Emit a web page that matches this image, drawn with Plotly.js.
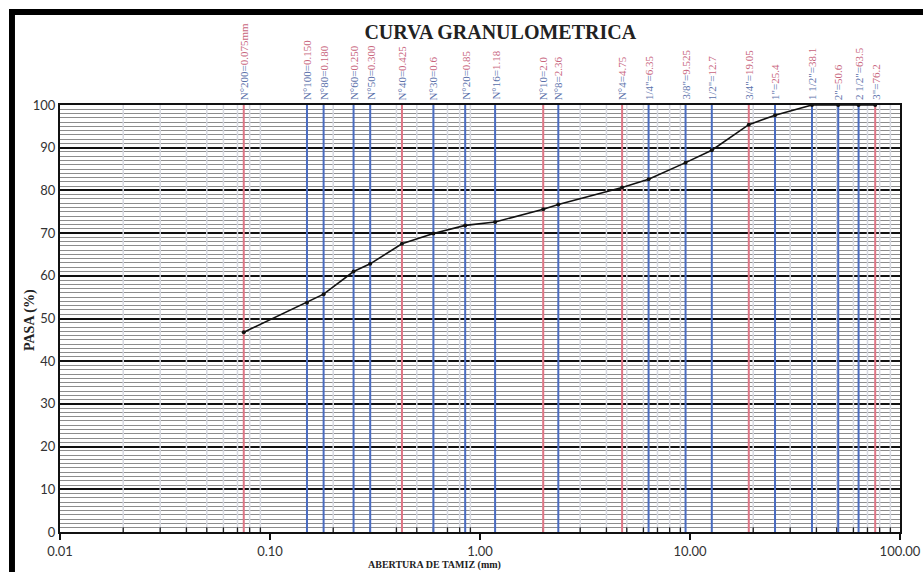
<!DOCTYPE html>
<html>
<head>
<meta charset="utf-8">
<script src="https://cdn.plot.ly/plotly-3.0.1.min.js"></script>
<style>html,body{margin:0;padding:0;background:#fff;}#chart{width:923px;height:572px;}</style>
</head>
<body>
<div id="chart"></div>
<script>
// ---- data ----
const sieveNames = ['N°200=','N°100=','N°80=','N°60=','N°50=','N°40=','N°30=','N°20=','N°16=','N°10=','N°8=','N°4=','1/4"=','3/8"=','1/2"=','3/4"=','1"=','1 1/2"=','2"=','2 1/2"=','3"='];
const sizeLabels = ['0.075mm','0.150','0.180','0.250','0.300','0.425','0.6','0.85','1.18','2.0','2.36','4.75','6.35','9.525','12.7','19.05','25.4','38.1','50.6','63.5','76.2'];
const sieveSizes = [0.075,0.150,0.180,0.250,0.300,0.425,0.6,0.85,1.18,2.0,2.36,4.75,6.35,9.525,12.7,19.05,25.4,38.1,50.8,63.5,76.2];
const passing = [46.8,53.7,55.7,61.0,62.8,67.5,69.9,71.8,72.6,75.6,76.7,80.7,82.6,86.5,89.4,95.4,97.6,100,100,100,100];
const xTickVals = [0.01,0.1,1,10,100];
const xTickText = ['0.01','0.10','1.00','10.00','100.00'];
const redSieves = ['N°200=','N°40=','N°10=','N°4=','3/4"=','3"='];

// ---- build ----
const minorX = [], minorY = [], tickX = [], tickY = [];
for (let d = -2; d < 2; d++) {
  for (let m = 2; m <= 9; m++) {
    const v = m * Math.pow(10, d);
    minorX.push(v, v, null); minorY.push(0, 100, null);
    tickX.push(v, v, null); tickY.push(0, 1.1, null);
  }
}
const redX = [], redY = [], blueX = [], blueY = [];
sieveSizes.forEach((s, i) => {
  if (redSieves.includes(sieveNames[i])) { redX.push(s, s, null); redY.push(0, 100, null); }
  else { blueX.push(s, s, null); blueY.push(0, 100, null); }
});

const traces = [
  {x: minorX, y: minorY, mode: 'lines', line: {color: '#d6d8e0', width: 1.5}, hoverinfo: 'skip', showlegend: false},
  {x: tickX, y: tickY, mode: 'lines', line: {color: '#222', width: 1.3}, hoverinfo: 'skip', showlegend: false},
  {x: redX, y: redY, mode: 'lines', line: {color: '#de7585', width: 2}, hoverinfo: 'skip', showlegend: false},
  {x: blueX, y: blueY, mode: 'lines', line: {color: '#4a6cc0', width: 2}, hoverinfo: 'skip', showlegend: false},
  {x: sieveSizes, y: passing, mode: 'lines+markers', line: {color: '#111', width: 1.6}, marker: {color: '#111', size: 4}, showlegend: false}
];

const annotations = sieveSizes.map((s, i) => ({
  x: Math.log10(s), xref: 'x', y: 1, yref: 'paper', yanchor: 'bottom', xanchor: 'center', yshift: 3,
  textangle: -90, showarrow: false,
  text: '<span style="color:#5a70aa">' + sieveNames[i] + '</span><span style="color:#c8657d">' + sizeLabels[i] + '</span>',
  font: {family: 'Liberation Serif', size: 11}
}));
annotations.push({
  x: 0.446, xref: 'paper', y: -0.077, yref: 'paper', showarrow: false, xanchor: 'center', yanchor: 'middle',
  text: '<b>ABERTURA DE TAMIZ (mm)</b>', font: {family: 'Liberation Serif', size: 10, color: '#222'}
});
annotations.push({
  x: -0.0357, xref: 'paper', y: 0.4965, yref: 'paper', showarrow: false, xanchor: 'center', yanchor: 'middle',
  textangle: -90, text: '<b>PASA (%)</b>', font: {family: 'Liberation Serif', size: 14, color: '#222'}
});

const layout = {
  width: 923, height: 572,
  margin: {l: 60, r: 23, t: 105, b: 40},
  paper_bgcolor: '#fff', plot_bgcolor: '#fff',
  title: {text: '<b>CURVA GRANULOMETRICA</b>', x: 0.542, xanchor: 'center', y: 0.944, yanchor: 'middle',
          font: {family: 'Liberation Serif', size: 20, color: '#222'}},
  xaxis: {type: 'log', range: [-2, 2], tickmode: 'array', tickvals: xTickVals, ticktext: xTickText,
          showgrid: false, zeroline: false, showline: true, linecolor: '#111', linewidth: 2, mirror: true,
          ticks: 'outside', ticklen: 6, tickcolor: '#111', tickwidth: 1.5,
          tickfont: {family: 'Lato', size: 13, color: '#333'}},
  yaxis: {range: [0, 100], dtick: 10, tick0: 0, showgrid: true, gridcolor: '#111', gridwidth: 2,
          zeroline: false, showline: true, linecolor: '#111', linewidth: 2, mirror: true, ticks: '',
          minor: {dtick: 1, tick0: 0, showgrid: true, gridcolor: '#8c8c8c', gridwidth: 1},
          tickfont: {family: 'Lato', size: 13, color: '#333'}},
  annotations: annotations,
  shapes: [
    {type: 'rect', xref: 'paper', yref: 'paper', x0: -0.0607, x1: -0.0536, y0: -0.0937, y1: 1.2248, fillcolor: '#000', line: {width: 0}},
    {type: 'rect', xref: 'paper', yref: 'paper', x0: -0.0607, x1: 1.03, y0: 1.2108, y1: 1.2248, fillcolor: '#000', line: {width: 0}}
  ]
};

Plotly.newPlot('chart', traces, layout, {displayModeBar: false, staticPlot: true});
</script>
</body>
</html>
